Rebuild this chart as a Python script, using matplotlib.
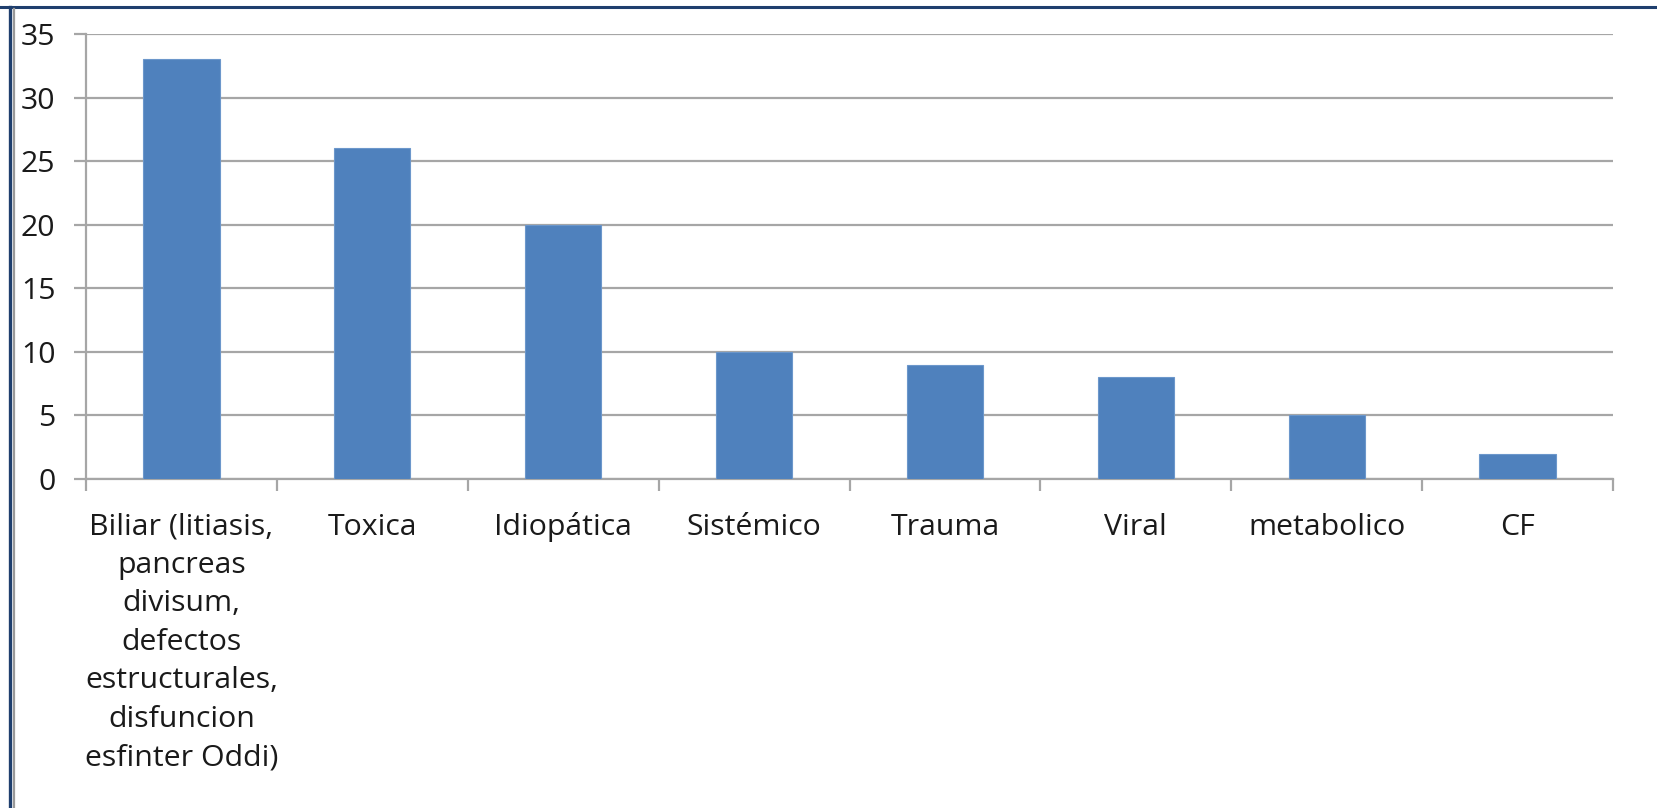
import matplotlib
matplotlib.use("Agg")
import matplotlib.pyplot as plt
import matplotlib.transforms as mtransforms
from matplotlib.lines import Line2D

categories = ["Biliar (litiasis,\npancreas\ndivisum,\ndefectos\nestructurales,\ndisfuncion\nesfinter Oddi)",
              "Toxica", "Idiopática", "Sistémico", "Trauma", "Viral", "metabolico", "CF"]
values = [33, 26, 20, 10, 9, 8, 5, 2]
yticks = [0, 5, 10, 15, 20, 25, 30, 35]

W, H = 1657, 808
fig = plt.figure(figsize=(W / 100, H / 100), dpi=100)
fig.patch.set_facecolor("white")

left, right, top, bottom = 86, 1613, 34, 479
ax = fig.add_axes([left / W, 1 - bottom / H, (right - left) / W, (bottom - top) / H])

grid_c = "#A6A6A6"
x = list(range(len(values)))
ax.bar(x, values, width=0.40, color="#4F81BD", edgecolor="#6C97CB", linewidth=0.8, zorder=3)
ax.set_xlim(-0.5, len(values) - 0.5)
ax.set_ylim(0, 35)
ax.set_yticks(yticks)
ax.yaxis.grid(True, color=grid_c, linewidth=1.6, zorder=0)
for s in ["top", "right"]:
    ax.spines[s].set_visible(False)
for s in ["left", "bottom"]:
    ax.spines[s].set_color(grid_c)
    ax.spines[s].set_linewidth(1.6)

font = "Open Sans"
fs = 21.8
ax.tick_params(axis="y", direction="out", length=8.6, width=1.6, color=grid_c,
               labelsize=fs, pad=13.5, labelcolor="#1a1a1a")
for lab in ax.get_yticklabels():
    lab.set_fontfamily(font)

# x: ticks at category boundaries, labels centered under bars
ax.set_xticks([i - 0.5 for i in range(len(values) + 1)])
ax.set_xticklabels([])
ax.tick_params(axis="x", direction="out", length=8.6, width=1.6, color=grid_c)

base = mtransforms.blended_transform_factory(ax.transData, ax.transAxes)
for i, c in enumerate(categories):
    if "\n" in c:
        tr = base + mtransforms.ScaledTranslation(0, -24 / 72, fig.dpi_scale_trans)
        va = "top"
    else:
        tr = base + mtransforms.ScaledTranslation(0, -40 / 72, fig.dpi_scale_trans)
        va = "baseline"
    ax.text(i, 0, c, transform=tr, ha="center", va=va, fontsize=fs, fontfamily=font,
            color="#1a1a1a", linespacing=1.43, multialignment="center", clip_on=False)

# frame border lines
fig.add_artist(Line2D([0, 1], [1 - 7 / H, 1 - 7 / H], color="#1F3F6E", linewidth=2.2,
                      transform=fig.transFigure))
fig.add_artist(Line2D([9.5 / W, 9.5 / W], [0, 1 - 7 / H], color="#1F3F6E", linewidth=2.4,
                      transform=fig.transFigure))
fig.add_artist(Line2D([14 / W, 14 / W], [0, 1 - 9 / H], color="#9A9A9A", linewidth=1.6,
                      transform=fig.transFigure))

fig.savefig("out.png", dpi=100, facecolor="white")
